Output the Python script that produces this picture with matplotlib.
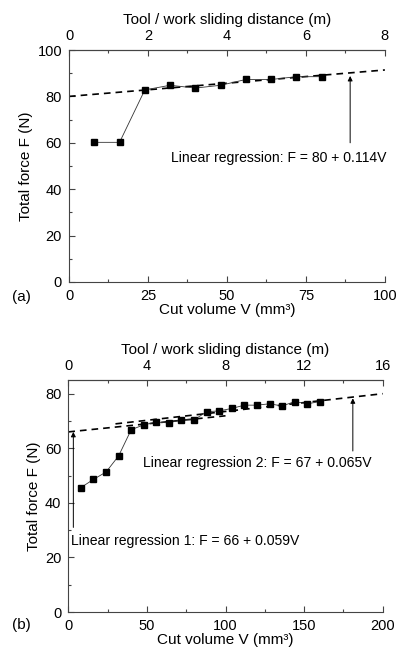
import matplotlib
matplotlib.use("Agg")
import matplotlib.pyplot as plt
import numpy as np

plt.rcParams['font.family'] = ['Liberation Sans', 'DejaVu Sans']

# Panel (a) data
vol_a = [8, 16, 24, 32, 40, 48, 56, 64, 72, 80]
force_a = [60.2, 60.2, 82.8, 84.8, 83.6, 84.8, 87.3, 87.3, 88.5, 88.5]
reg_a = (80, 0.114)

# Panel (b) data
vol_b = [8, 16, 24, 32, 40, 48, 56, 64, 72, 80, 88, 96, 104, 112, 120, 128, 136, 144, 152, 160]
force_b = [45.6, 48.6, 51.3, 57.2, 66.8, 68.6, 69.6, 69.3, 70.5, 70.4,
           73.4, 73.7, 74.6, 75.8, 75.8, 76.3, 75.5, 77.1, 76.3, 77.1]
reg_b1 = (66, 0.059)
reg_b2 = (67, 0.065)

spine_col = '#444444'
fs = 10.1     # annotation text
fs_tick = 10.5
fs_lab = 11

fig = plt.figure(figsize=(4.14, 6.52), dpi=100)


def style_axes(ax, xmax, ymax, xmajor, ymajor, top_max, top_major):
    ax.set_xlim(0, xmax)
    ax.set_ylim(0, ymax)
    ax.set_xticks(np.arange(0, xmax + 0.01, xmajor))
    ax.set_xticks(np.arange(xmajor / 2, xmax, xmajor), minor=True)
    ax.set_yticks(np.arange(0, ymax + 0.01, ymajor))
    ax.set_yticks(np.arange(ymajor / 2, ymax, ymajor), minor=True)
    ax.spines['right'].set_visible(False)
    for s in ['left', 'bottom', 'top']:
        ax.spines[s].set_color(spine_col)
        ax.spines[s].set_linewidth(0.8)
    ax.tick_params(which='major', direction='in', length=4, width=0.8, color=spine_col,
                   labelsize=fs_tick, top=False, right=False)
    ax.tick_params(axis='x', which='major', pad=5)
    ax.tick_params(axis='y', which='major', pad=5)
    ax.tick_params(which='minor', direction='in', length=2.5, width=0.8, color=spine_col,
                   top=False, right=False)
    ax.set_xlabel('Cut volume V (mm³)', fontsize=fs_lab, labelpad=0)
    ax.set_ylabel('Total force F (N)', fontsize=fs_lab, labelpad=3)
    top = ax.twiny()
    top.set_xlim(0, top_max)
    top.set_xticks(np.arange(0, top_max + 0.01, top_major))
    top.set_xticks(np.arange(top_major / 2, top_max, top_major), minor=True)
    for s in ['left', 'right', 'bottom']:
        top.spines[s].set_visible(False)
    top.spines['top'].set_color(spine_col)
    top.spines['top'].set_linewidth(0.8)
    top.tick_params(which='major', direction='in', length=4, width=0.8, color=spine_col,
                    labelsize=fs_tick, pad=5)
    top.tick_params(which='minor', direction='in', length=2.5, width=0.8, color=spine_col)
    top.set_xlabel('Tool / work sliding distance (m)', fontsize=fs_lab, labelpad=4)
    return top


# ---------- Panel (a) ----------
ax1 = fig.add_axes([0.1667, 0.5675, 0.763, 0.3558])
style_axes(ax1, 100, 100, 25, 20, 8, 2)
ax1.plot(vol_a, force_a, '-', color='#333333', lw=0.6, marker='s', ms=4.5,
         mfc='black', mec='black', zorder=3)
xr = np.array([0, 100])
ax1.plot(xr, reg_a[0] + reg_a[1] * xr, '--', color='black', lw=1.2, dashes=(4, 3), zorder=2)
ax1.annotate('', xy=(89, 88.8), xytext=(89, 60),
             arrowprops=dict(arrowstyle='-|>', lw=0.7, color='black', mutation_scale=7,
                             shrinkA=0, shrinkB=0))
ax1.text(32.3, 53.6, 'Linear regression: F = 80 + 0.114V', fontsize=fs, va='center', ha='left')
fig.text(21 / 414, 1 - 297 / 652, '(a)', fontsize=fs_lab, ha='center', va='center')

# ---------- Panel (b) ----------
ax2 = fig.add_axes([0.165, 0.0613, 0.7594, 0.3558])
style_axes(ax2, 200, 85, 50, 20, 16, 4)
ax2.set_yticks(np.arange(10, 85, 20), minor=True)
ax2.plot(vol_b, force_b, '-', color='#333333', lw=0.6, marker='s', ms=4.5,
         mfc='black', mec='black', zorder=3)
x1 = np.array([0, 100])
ax2.plot(x1, reg_b1[0] + reg_b1[1] * x1, '--', color='black', lw=1.2, dashes=(4, 3), zorder=2)
x2 = np.array([30, 200])
ax2.plot(x2, reg_b2[0] + reg_b2[1] * x2, '--', color='black', lw=1.2, dashes=(4, 3), zorder=2)
ax2.annotate('', xy=(3.2, 66), xytext=(3.2, 31),
             arrowprops=dict(arrowstyle='-|>', lw=0.7, color='black', mutation_scale=7,
                             shrinkA=0, shrinkB=0))
ax2.annotate('', xy=(181, 78.3), xytext=(181, 59),
             arrowprops=dict(arrowstyle='-|>', lw=0.7, color='black', mutation_scale=7,
                             shrinkA=0, shrinkB=0))
ax2.text(1.5, 26, 'Linear regression 1: F = 66 + 0.059V', fontsize=fs, va='center', ha='left')
ax2.text(47.7, 54.5, 'Linear regression 2: F = 67 + 0.065V', fontsize=fs, va='center', ha='left')
fig.text(21 / 414, 1 - 625 / 652, '(b)', fontsize=fs_lab, ha='center', va='center')

fig.savefig('out.png', dpi=100)
